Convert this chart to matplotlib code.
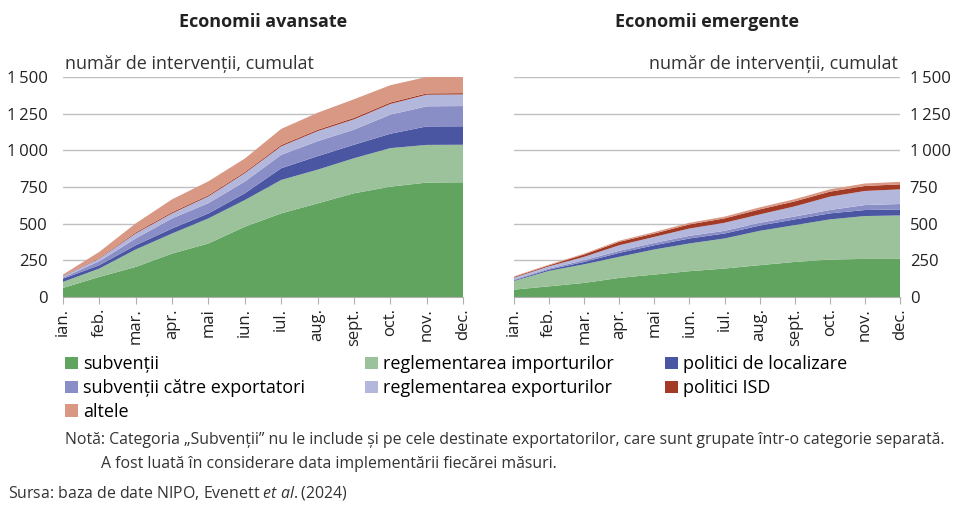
import matplotlib
matplotlib.use("Agg")
import matplotlib.pyplot as plt
from matplotlib.patches import Patch
from matplotlib.ticker import FuncFormatter

plt.rcParams['font.family'] = ['Open Sans', 'DejaVu Sans']
plt.rcParams['mathtext.fontset'] = 'custom'
plt.rcParams['mathtext.it'] = 'Open Sans:italic'
plt.rcParams['mathtext.rm'] = 'Open Sans'

# Data
months = ['ian.', 'feb.', 'mar.', 'apr.', 'mai', 'iun.', 'iul.', 'aug.', 'sept.', 'oct.', 'nov.', 'dec.']
series_names = ['subvenții', 'reglementarea importurilor', 'politici de localizare',
                'subvenții către exportatori', 'reglementarea exporturilor', 'politici ISD', 'altele']
colors = ['#60a45f', '#9bc29a', '#4a56a2', '#8a8ec6', '#b4b7dc', '#a23a26', '#d99884']

# Economii avansate (cumulative counts per category)
adv_subventii = [62, 137, 205, 296, 365, 479, 570, 638, 707, 752, 780, 782]
adv_import = [41, 57, 119, 137, 171, 182, 228, 230, 239, 263, 257, 256]
adv_localizare = [22, 23, 29, 34, 34, 46, 80, 92, 92, 98, 126, 126]
adv_subv_export = [7, 27, 46, 69, 70, 80, 91, 102, 103, 130, 137, 138]
adv_export = [9, 18, 34, 34, 46, 57, 58, 69, 70, 73, 79, 79]
adv_isd = [3, 4, 7, 8, 8, 8, 9, 9, 10, 10, 9, 9]
adv_altele = [9, 42, 62, 88, 95, 92, 110, 116, 127, 118, 112, 112]

# Economii emergente
em_subventii = [50, 73, 96, 130, 153, 176, 194, 217, 239, 255, 260, 260]
em_import = [59, 105, 127, 144, 171, 189, 205, 234, 251, 274, 292, 296]
em_localizare = [5, 9, 16, 27, 29, 34, 34, 36, 39, 41, 41, 41]
em_subv_export = [5, 7, 12, 14, 16, 18, 18, 19, 20, 23, 34, 37]
em_export = [13, 15, 23, 38, 41, 50, 55, 57, 69, 91, 96, 100]
em_isd = [5, 7, 16, 23, 23, 28, 30, 34, 34, 34, 34, 34]
em_altele = [4, 5, 6, 8, 10, 11, 12, 14, 15, 16, 17, 17]

adv = [adv_subventii, adv_import, adv_localizare, adv_subv_export, adv_export, adv_isd, adv_altele]
em = [em_subventii, em_import, em_localizare, em_subv_export, em_export, em_isd, em_altele]

fig = plt.figure(figsize=(9.55, 5.07), dpi=100)
ax1 = fig.add_axes([63 / 955, 1 - 297 / 507, 400 / 955, 220 / 507])
ax2 = fig.add_axes([514 / 955, 1 - 297 / 507, 386 / 955, 220 / 507])

fmt = FuncFormatter(lambda v, p: f'{int(v):,}'.replace(',', '\u2009'))
x = list(range(len(months)))

for ax, data, title in [(ax1, adv, 'Economii avansate'), (ax2, em, 'Economii emergente')]:
    ax.stackplot(x, data, colors=colors, linewidth=0)
    ax.set_xlim(0, len(months) - 1)
    ax.set_ylim(0, 1500)
    ax.set_yticks([0, 250, 500, 750, 1000, 1250, 1500])
    ax.yaxis.set_major_formatter(fmt)
    ax.grid(axis='y', color='#c0c0c0', linewidth=1)
    ax.set_axisbelow(True)
    for s in ['top', 'left', 'right']:
        ax.spines[s].set_visible(False)
    ax.spines['bottom'].set_color('#b0b0b0')
    ax.set_xticks(x)
    ax.set_xticklabels(months, rotation=90, fontsize=12, color='#222222')
    ax.tick_params(axis='x', length=5, color='#b0b0b0', pad=3)
    ax.tick_params(axis='y', length=0, labelsize=12, colors='#222222')
    ax.set_title(title, fontsize=13, fontweight='bold', pad=36, color='#222222')

ax1.tick_params(axis='y', pad=11)
ax2.yaxis.tick_right()
ax2.tick_params(axis='y', pad=7)

ax1.text(0.005, 1.06, 'număr de intervenții, cumulat', transform=ax1.transAxes,
         fontsize=13, color='#333333', ha='left', va='center')
ax2.text(0.995, 1.06, 'număr de intervenții, cumulat', transform=ax2.transAxes,
         fontsize=13, color='#333333', ha='right', va='center')

# legend: three columns, row-major order
handles = [Patch(facecolor=c, edgecolor='none') for c in colors]
col_x = [58, 358, 658]
for j in range(3):
    idx = list(range(j, len(series_names), 3))
    fig.legend([handles[i] for i in idx], [series_names[i] for i in idx], loc='upper left',
               bbox_to_anchor=(col_x[j] / 955, 1 - 348 / 507), frameon=False, fontsize=13,
               handlelength=0.7, handleheight=0.7, handletextpad=0.3, labelspacing=0.33,
               borderaxespad=0)

fig.text(65 / 955, 1 - 440 / 507,
         'Notă: Categoria „Subvenții” nu le include și pe cele destinate exportatorilor, care sunt grupate într-o categorie separată.',
         fontsize=11.4, color='#333333', va='center')
fig.text(101 / 955, 1 - 464 / 507, 'A fost luată în considerare data implementării fiecărei măsuri.',
         fontsize=11.4, color='#333333', va='center')
fig.text(8 / 955, 1 - 493 / 507, r'Sursa: baza de date NIPO, Evenett $\it{et\ al.}$(2024)',
         fontsize=11.4, color='#333333', va='center')
fig.savefig('out.png', dpi=100)
